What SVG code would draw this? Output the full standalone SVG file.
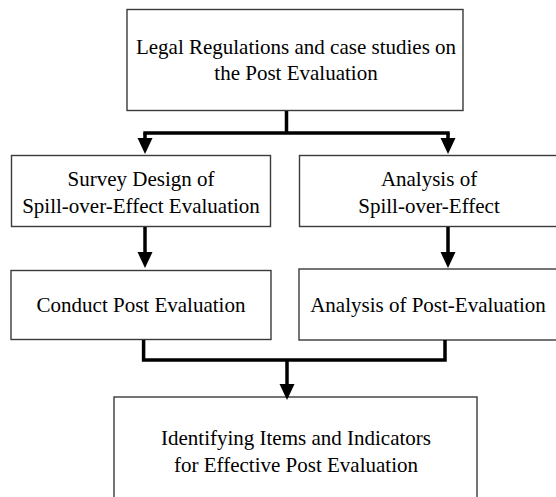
<svg xmlns="http://www.w3.org/2000/svg" width="556" height="497" viewBox="0 0 556 497">
<style>
.box{fill:#fff;stroke:#3a3a3a;stroke-width:1.4}
.t{font-family:"Liberation Serif","Times New Roman",serif;font-size:21px;fill:#000;text-anchor:middle}
.c{fill:none;stroke:#000;stroke-width:3.5}
</style>
<defs>
<marker id="ah" markerUnits="userSpaceOnUse" markerWidth="17" markerHeight="16" refX="0" refY="7.5" orient="auto" viewBox="0 0 17 15">
<path d="M0,0 L16,7.5 L0,15 z" fill="#000"/>
</marker>
</defs>
<rect width="556" height="497" fill="#fff"/>
<g id="n-legal">
<rect class="box" x="127" y="9.5" width="336" height="101"/>
<text class="t" x="296" y="54">Legal Regulations and case studies on</text>
<text class="t" x="296" y="80">the Post Evaluation</text>
</g>
<g id="n-survey">
<rect class="box" x="11.5" y="155.5" width="259" height="71"/>
<text class="t" x="141" y="186">Survey Design of</text>
<text class="t" x="141" y="213">Spill-over-Effect Evaluation</text>
</g>
<g id="n-analysis-spill">
<rect class="box" x="299.5" y="155.5" width="270" height="71"/>
<text class="t" x="429" y="186">Analysis of</text>
<text class="t" x="429" y="213">Spill-over-Effect</text>
</g>
<g id="n-conduct">
<rect class="box" x="11" y="270.5" width="260" height="69"/>
<text class="t" x="141" y="312">Conduct Post Evaluation</text>
</g>
<g id="n-analysis-post">
<rect class="box" x="299" y="269" width="270" height="71"/>
<text class="t" x="428" y="312">Analysis of Post-Evaluation</text>
</g>
<g id="n-identifying">
<rect class="box" x="114" y="397" width="363" height="120"/>
<text class="t" x="296" y="445">Identifying Items and Indicators</text>
<text class="t" x="296" y="472">for Effective Post Evaluation</text>
</g>
<g id="connectors">
<path class="c" d="M286.5,111 V133 M143.3,133 H449.7"/>
<path class="c" d="M145,133 V138" marker-end="url(#ah)"/>
<path class="c" d="M448,133 V138" marker-end="url(#ah)"/>
<path class="c" d="M145,227 V252" marker-end="url(#ah)"/>
<path class="c" d="M448,227 V252" marker-end="url(#ah)"/>
<path class="c" d="M143.6,340 V360 H445 V340"/>
<path class="c" d="M287,360 V384" marker-end="url(#ah)"/>
</g>
</svg>
